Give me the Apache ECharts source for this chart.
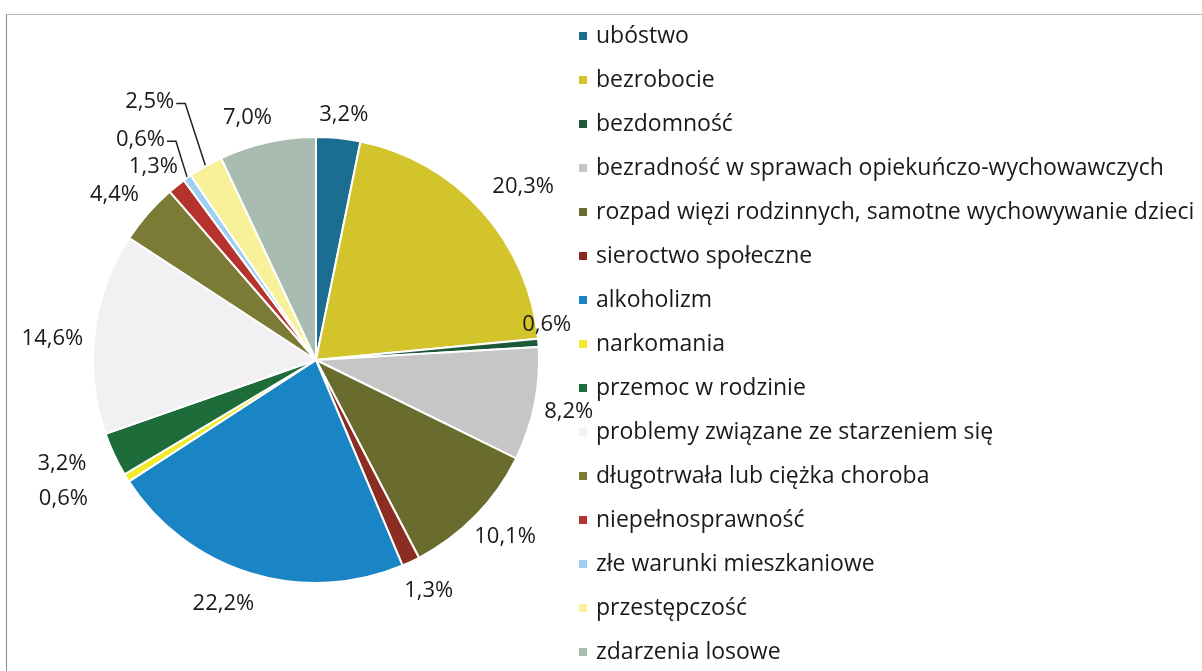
<!DOCTYPE html>
<html>
<head>
<meta charset="utf-8">
<script src="https://cdn.jsdelivr.net/npm/echarts@6/dist/echarts.min.js"></script>
<style>
  html, body { margin: 0; padding: 0; background: #fff; }
  #frame { position: absolute; left: 6px; top: 14px; width: 1196px; height: 657px;
           border-top: 1px solid #b8b8b8; border-left: 1px solid #8a8a8a; }
  #main { position: absolute; left: 0; top: 0; width: 1202px; height: 671px; }
</style>
</head>
<body>
<div id="frame"></div>
<div id="main"></div>
<script>
// categories and shares (%) clockwise from 12 o'clock
var categories = [
    'ubóstwo',
    'bezrobocie',
    'bezdomność',
    'bezradność w sprawach opiekuńczo-wychowawczych',
    'rozpad więzi rodzinnych, samotne wychowywanie dzieci',
    'sieroctwo społeczne',
    'alkoholizm',
    'narkomania',
    'przemoc w rodzinie',
    'problemy związane ze starzeniem się',
    'długotrwała lub ciężka choroba',
    'niepełnosprawność',
    'złe warunki mieszkaniowe',
    'przestępczość',
    'zdarzenia losowe'
];
var shares = [3.2, 20.3, 0.6, 8.2, 10.1, 1.3, 22.2, 0.6, 3.2, 14.6, 4.4, 1.3, 0.6, 2.5, 7.0];
var colors = [
    '#1b6e92', '#d3c42c', '#1d5838', '#c6c6c6', '#6a6c2e',
    '#8c2d24', '#1a85c4', '#f0ea28', '#1f6c3b', '#f1f1f3',
    '#7b7b36', '#b5332c', '#9ccff2', '#f8f19a', '#a9bcb0'
];
// small slices that get a leader line
var withLine = ['złe warunki mieszkaniowe', 'przestępczość'];

var pieCenter = [316, 360];
var pieRadius = 223;
// hand tweaks of the value labels, like in the original
var labelNudge = [
    [3, 1], [8, 6], [-38, -15], [-11, -2], [-2, -10],
    [4, 0], [-18, 1], [-27, -2], [-12, -10], [10, 12],
    [-3, 8], [0, 10], [-26, -9], [-39, -35], [-14, 2]
];

// mid angle of every slice, clockwise from the top
var total = shares.reduce(function (a, b) { return a + b; }, 0);
var midAngles = [];
var acc = 0;
shares.forEach(function (v) {
    midAngles.push((acc + v / 2) / total * 2 * Math.PI);
    acc += v;
});

var myChart = echarts.init(document.getElementById('main'));

var pieData = categories.map(function (name, i) {
    return {
        name: name,
        value: shares[i],
        itemStyle: { color: colors[i] },
        labelLine: { show: withLine.indexOf(name) >= 0 }
    };
});

var option = {
    animation: false,
    textStyle: { fontFamily: 'Open Sans' },
    legend: {
        orient: 'vertical',
        left: 577,
        top: 23,
        padding: 0,
        itemWidth: 10,
        itemHeight: 10,
        itemGap: 18,
        icon: 'rect',
        textStyle: { fontSize: 23, lineHeight: 26, color: '#1a1a1a', fontFamily: 'Open Sans', padding: [0, 0, 0, 3] },
        data: categories
    },
    series: [{
        type: 'pie',
        center: pieCenter,
        radius: pieRadius,
        startAngle: 90,
        clockwise: true,
        avoidLabelOverlap: false,
        itemStyle: { borderColor: '#fff', borderWidth: 2 },
        label: {
            show: true,
            position: 'outside',
            fontSize: 22,
            color: '#1a1a1a',
            fontFamily: 'Open Sans',
            formatter: function (p) {
                return p.value.toFixed(1).replace('.', ',') + '%';
            }
        },
        labelLine: { length: 8, length2: 6, lineStyle: { color: '#222', width: 1.5 } },
        labelLayout: function (p) {
            var i = p.dataIndex;
            var s = Math.sin(midAngles[i]);
            var c = Math.cos(midAngles[i]);
            var w = p.labelRect.width;
            var f = pieRadius + 22 + w / 2 * Math.abs(s);
            var x = pieCenter[0] + f * s + labelNudge[i][0];
            var y = pieCenter[1] - f * c + labelNudge[i][1];
            var out = { x: x, y: y, align: 'center', verticalAlign: 'middle' };
            if (withLine.indexOf(categories[i]) >= 0) {
                var ex = pieCenter[0] + pieRadius * s;
                var ey = pieCenter[1] - pieRadius * c;
                var lx = x + w / 2 + 2;
                out.labelLinePoints = [[ex, ey], [lx + 9, y + 2], [lx, y + 2]];
            }
            return out;
        },
        data: pieData
    }]
};

myChart.setOption(option);
</script>
</body>
</html>
